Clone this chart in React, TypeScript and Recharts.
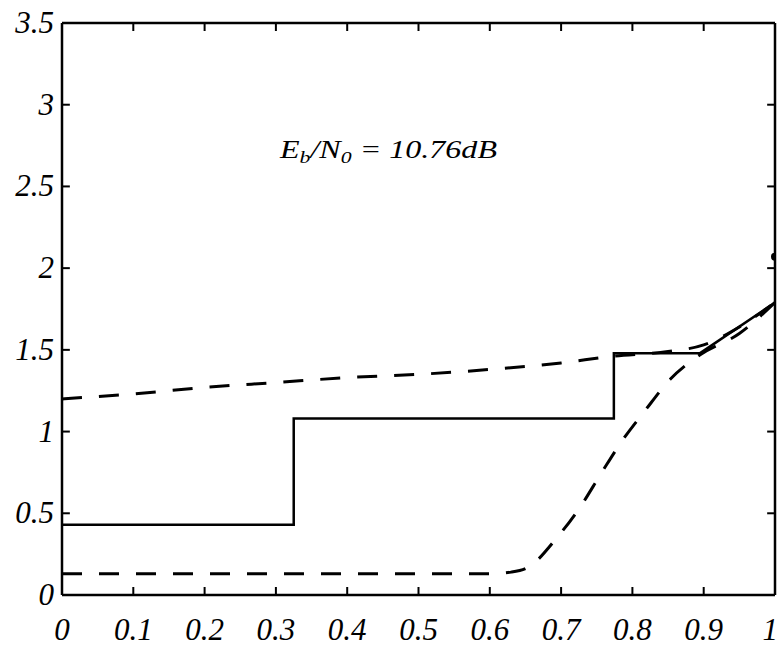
import { LineChart, Line, XAxis, YAxis, Scatter, ReferenceLine } from 'recharts'

// step curve (solid) and the two dashed curves, x in [0, 1]
const stepX = [0, 0.325, 0.325, 0.774, 0.774, 0.895, 1]
const stepY = [0.43, 0.43, 1.08, 1.08, 1.48, 1.48, 1.79]

const upperX = [0, 0.1, 0.2, 0.3, 0.4, 0.5, 0.6, 0.7, 0.77, 0.85, 0.9, 0.95, 1]
const upperY = [1.2, 1.23, 1.27, 1.3, 1.33, 1.35, 1.38, 1.42, 1.46, 1.49, 1.53, 1.64, 1.79]

const lowerX = [0, 0.1, 0.2, 0.3, 0.4, 0.5, 0.6, 0.63, 0.654, 0.694, 0.727, 0.757, 0.785, 0.818, 0.853, 0.895, 0.95, 1]
const lowerY = [0.13, 0.13, 0.13, 0.13, 0.13, 0.13, 0.13, 0.14, 0.17, 0.35, 0.54, 0.75, 0.94, 1.13, 1.32, 1.47, 1.6, 1.79]

const markX = [1]
const markY = [2.07]

const xTicks = [0, 0.1, 0.2, 0.3, 0.4, 0.5, 0.6, 0.7, 0.8, 0.9, 1]
const yTicks = [0, 0.5, 1, 1.5, 2, 2.5, 3, 3.5]

const X_MIN = 0
const X_MAX = 1
const Y_MIN = 0
const Y_MAX = 3.5

const toPoints = (xs: number[], ys: number[]) => xs.map((x, i) => ({ x, y: ys[i] }))

const font = '"Liberation Serif", "Times New Roman", serif'
const fmt = (v: number) => String(v)
const frame = { stroke: '#000', strokeWidth: 2.5 }

// inward tick marks, as fractions of each axis range
const xTickLen = (Y_MAX - Y_MIN) * 0.014
const yTickLen = (X_MAX - X_MIN) * 0.011
const innerXTicks = xTicks.filter((t) => t > X_MIN && t < X_MAX)
const innerYTicks = yTicks.filter((t) => t > Y_MIN && t < Y_MAX)

const BottomTick = (props: any) => {
  const { x, y, payload } = props
  const last = payload.value === X_MAX
  return (
    <text
      x={last ? x + 3 : x}
      y={y + 45}
      textAnchor={last ? 'end' : 'middle'}
      fontFamily={font}
      fontStyle="italic"
      fontSize={31}
      fill="#000"
    >
      {fmt(payload.value)}
    </text>
  )
}

const LeftTick = (props: any) => {
  const { x, y, payload } = props
  return (
    <text x={x - 8} y={y + 10} textAnchor="end" fontFamily={font} fontStyle="italic" fontSize={31} fill="#000">
      {fmt(payload.value)}
    </text>
  )
}

export default function App() {
  return (
    <div style={{ position: 'absolute', left: 0, top: 0, width: 780, height: 651, background: '#fff' }}>
      <LineChart width={780} height={651} margin={{ top: 23, right: 5, bottom: 0, left: 0 }}>
        <XAxis
          xAxisId="b"
          dataKey="x"
          type="number"
          domain={[X_MIN, X_MAX]}
          ticks={xTicks}
          tickSize={0}
          tickMargin={0}
          tickLine={false}
          height={56}
          tick={<BottomTick />}
          axisLine={frame}
          allowDataOverflow
        />
        <YAxis
          yAxisId="l"
          type="number"
          domain={[Y_MIN, Y_MAX]}
          ticks={yTicks}
          tickSize={0}
          tickMargin={0}
          tickLine={false}
          width={62}
          tick={<LeftTick />}
          axisLine={frame}
        />

        {/* top and right sides of the box */}
        <ReferenceLine xAxisId="b" yAxisId="l" y={Y_MAX} stroke="#000" strokeWidth={2.5} />
        <ReferenceLine xAxisId="b" yAxisId="l" x={X_MAX} stroke="#000" strokeWidth={2.5} />

        {innerXTicks.map((t) => (
          <ReferenceLine
            key={`xb${t}`}
            xAxisId="b"
            yAxisId="l"
            segment={[{ x: t, y: Y_MIN }, { x: t, y: Y_MIN + xTickLen }]}
            stroke="#000"
            strokeWidth={2}
          />
        ))}
        {innerXTicks.map((t) => (
          <ReferenceLine
            key={`xt${t}`}
            xAxisId="b"
            yAxisId="l"
            segment={[{ x: t, y: Y_MAX }, { x: t, y: Y_MAX - xTickLen }]}
            stroke="#000"
            strokeWidth={2}
          />
        ))}
        {innerYTicks.map((t) => (
          <ReferenceLine
            key={`yl${t}`}
            xAxisId="b"
            yAxisId="l"
            segment={[{ x: X_MIN, y: t }, { x: X_MIN + yTickLen, y: t }]}
            stroke="#000"
            strokeWidth={2}
          />
        ))}
        {innerYTicks.map((t) => (
          <ReferenceLine
            key={`yr${t}`}
            xAxisId="b"
            yAxisId="l"
            segment={[{ x: X_MAX, y: t }, { x: X_MAX - yTickLen, y: t }]}
            stroke="#000"
            strokeWidth={2}
          />
        ))}

        <Line
          xAxisId="b"
          yAxisId="l"
          data={toPoints(upperX, upperY)}
          dataKey="y"
          type="monotone"
          stroke="#000"
          strokeWidth={3}
          strokeDasharray="20 17"
          dot={false}
          isAnimationActive={false}
        />
        <Line
          xAxisId="b"
          yAxisId="l"
          data={toPoints(lowerX, lowerY)}
          dataKey="y"
          type="monotone"
          stroke="#000"
          strokeWidth={3}
          strokeDasharray="20 17"
          dot={false}
          isAnimationActive={false}
        />
        <Line
          xAxisId="b"
          yAxisId="l"
          data={toPoints(stepX, stepY)}
          dataKey="y"
          type="linear"
          stroke="#000"
          strokeWidth={2.5}
          dot={false}
          isAnimationActive={false}
        />
        <Scatter
          xAxisId="b"
          yAxisId="l"
          data={toPoints(markX, markY)}
          dataKey="y"
          fill="#000"
          shape={(p: any) => <circle cx={p.cx} cy={p.cy} r={4} fill="#000" />}
          isAnimationActive={false}
        />
      </LineChart>
      <svg width={780} height={651} style={{ position: 'absolute', left: 0, top: 0, pointerEvents: 'none' }}>
        <text
          x={280}
          y={158}
          fontFamily={font}
          fontStyle="italic"
          fontSize={25}
          fill="#000"
          textLength={217}
          lengthAdjust="spacingAndGlyphs"
        >
          E<tspan fontSize={17} dy={5}>b</tspan>
          <tspan dy={-5}>/N</tspan>
          <tspan fontSize={17} dy={5}>0</tspan>
          <tspan dy={-5}> = 10.76dB</tspan>
        </text>
      </svg>
    </div>
  )
}
